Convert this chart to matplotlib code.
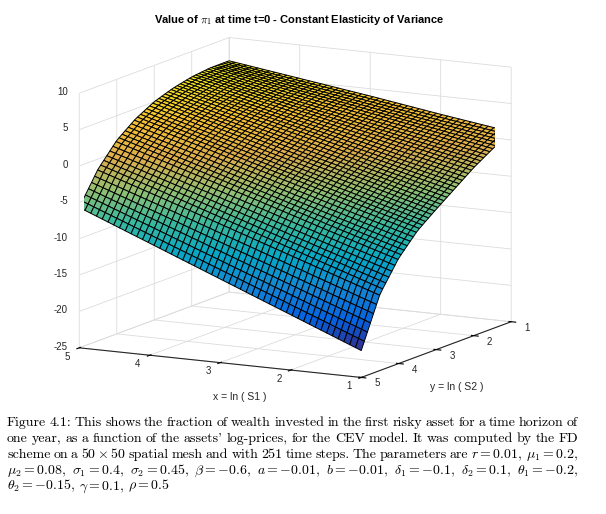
import matplotlib
matplotlib.use("Agg")
import matplotlib.pyplot as plt
import numpy as np
from matplotlib.colors import LinearSegmentedColormap

# grid the surface was read on (x = ln S1, y = ln S2)
x_vals = [1, 2, 3, 4, 5]
y_vals = [1.0, 1.5, 2.0, 2.5, 3.0, 3.5, 4.0, 4.5, 5.0]

# value of pi_1 at t=0, one list per y value, columns follow x_vals
pi1_y10 = [1.1, 2.5, 4.0, 5.4, 6.8]
pi1_y15 = [-0.3, 1.5, 3.3, 5.0, 6.8]
pi1_y20 = [-1.9, 0.2, 2.3, 4.4, 6.5]
pi1_y25 = [-3.8, -1.4, 1.1, 3.5, 5.9]
pi1_y30 = [-5.7, -3.0, -0.4, 2.3, 5.0]
pi1_y35 = [-7.7, -4.9, -2.1, 0.8, 3.6]
pi1_y40 = [-10.5, -7.5, -4.4, -1.4, 1.6]
pi1_y45 = [-14.5, -11.2, -7.9, -4.6, -1.4]
pi1_y50 = [-21.3, -17.4, -13.5, -9.6, -5.7]

x_ticks = [1, 2, 3, 4, 5]
y_ticks = [1, 2, 3, 4, 5]
z_ticks = [-25, -20, -15, -10, -5, 0, 5, 10]

caption_lines = [
    "Figure 4.1: This shows the fraction of wealth invested in the first risky asset for a time horizon of",
    "one year, as a function of the assets' log-prices, for the CEV model. It was computed by the FD",
    r"scheme on a $50\times50$ spatial mesh and with 251 time steps. The parameters are $r=0.01$, $\mu_1=0.2$,",
    r"$\mu_2=0.08$, $\sigma_1=0.4$, $\sigma_2=0.45$, $\beta=-0.6$, $a=-0.01$, $b=-0.01$, $\delta_1=-0.1$, $\delta_2=0.1$, $\theta_1=-0.2$,",
    r"$\theta_2=-0.15$, $\gamma=0.1$, $\rho=0.5$",
]

# parula-like colormap (MATLAB default)
parula = LinearSegmentedColormap.from_list(
    "parula",
    ["#352A87", "#0363E1", "#1485D4", "#06A7C6", "#38B99E",
     "#92BF73", "#DDAE4C", "#F5C032", "#F3EA1E"],
)

plt.rcParams["axes.unicode_minus"] = False
plt.rcParams["mathtext.fontset"] = "cm"
plt.rcParams["grid.color"] = "#dcdcdc"
plt.rcParams["grid.linewidth"] = 0.6

table = np.array([pi1_y10, pi1_y15, pi1_y20, pi1_y25, pi1_y30,
                  pi1_y35, pi1_y40, pi1_y45, pi1_y50])

# 50 x 50 mesh like the FD grid
xf = np.linspace(x_vals[0], x_vals[-1], 50)
yf = np.linspace(y_vals[0], y_vals[-1], 50)
rows = np.array([np.interp(xf, x_vals, r) for r in table])
Z = np.array([np.interp(yf, y_vals, rows[:, i]) for i in range(len(xf))]).T
X, Y = np.meshgrid(xf, yf)

fig = plt.figure(figsize=(6.06, 5.14), dpi=100)
ax = fig.add_axes([-0.002, 0.1855, 0.96, 0.8], projection="3d")
ax.set_proj_type("ortho")
ax.view_init(elev=11.4, azim=-62)
ax.set_box_aspect((1.23, 1.23, 1.0), zoom=1.23)

ax.plot_surface(X, Y, Z, cmap=parula, vmin=Z.min(), vmax=Z.max(),
                rstride=1, cstride=1, edgecolor="black", linewidth=0.7,
                antialiased=True)

# both horizontal axes run backwards, as in the MATLAB view
ax.set_xlim(5, 1)
ax.set_ylim(5, 1)
ax.set_zlim(-25, 10)
ax.set_xticks(x_ticks)
ax.set_yticks(y_ticks)
ax.set_zticks(z_ticks)

ink = "#262626"
for axis in (ax.xaxis, ax.yaxis, ax.zaxis):
    axis.set_pane_color((1, 1, 1, 0))
    axis.pane.set_edgecolor("#dcdcdc")
    axis.line.set_color(ink)
    axis.line.set_linewidth(0.8)
    axis.set_tick_params(label1On=False, label2On=False)

# matplotlib puts z on the right corner; MATLAB has it on the left one
ax.zaxis.line.set_visible(False)
ax.zaxis.set_tick_params(color="none")
ax.plot([5, 5], [5, 5], [z_ticks[0], z_ticks[-1]], color=ink, lw=0.8)
for z in z_ticks:
    ax.plot([5, 5.07], [5, 5], [z, z], color=ink, lw=0.8)

# tick labels as figure texts, placed through the axes' own projection
fig.canvas.draw()
M = ax.get_proj()


def to_fig(x, y, z):
    v = M @ np.array([x, y, z, 1.0])
    px, py = ax.transData.transform((v[0] / v[3], v[1] / v[3]))
    return px / fig.bbox.width, py / fig.bbox.height


tick_style = dict(fontsize=7, color=ink, family="Liberation Sans", va="center")
for z in z_ticks:
    fig.text(*to_fig(5.16, 5, z), str(z), ha="right", **tick_style)
for x in x_ticks:
    fig.text(*to_fig(x, 5.32, -25.6), str(x), ha="center", **tick_style)
for y in y_ticks:
    fig.text(*to_fig(0.775, y, -25.6), str(y), ha="center", **tick_style)

fig.text(240 / 606, 1 - 397 / 514, "x = ln ( S1 )", ha="center", va="center",
         fontsize=7.5, family="Liberation Sans", color=ink)
fig.text(457 / 606, 1 - 387 / 514, "y = ln ( S2 )", ha="center", va="center",
         fontsize=7.5, family="Liberation Sans", color=ink)

fig.text(0.493, 0.962, r"Value of $\pi_1$ at time t=0 - Constant Elasticity of Variance",
         ha="center", va="center", fontsize=8, fontweight="bold", family="Liberation Sans")

# caption, justified like the LaTeX source
renderer = fig.canvas.get_renderer()
left_px, right_px = 7, 578
line_y = [421.7, 438.3, 454.3, 470.0, 485.7]
H = fig.bbox.height
for k, line in enumerate(caption_lines):
    words = line.split(" ")
    texts = [fig.text(0, 0, w, fontsize=10, family="cmr10", va="baseline") for w in words]
    widths = [t.get_window_extent(renderer).width for t in texts]
    if k < len(caption_lines) - 1:
        gap = (right_px - left_px - sum(widths)) / (len(words) - 1)
    else:
        gap = 3.6
    x = left_px
    for t, w in zip(texts, widths):
        t.set_position((x / fig.bbox.width, 1 - (line_y[k] + 4) / H))
        x += w + gap

fig.savefig("out.png", dpi=100)
